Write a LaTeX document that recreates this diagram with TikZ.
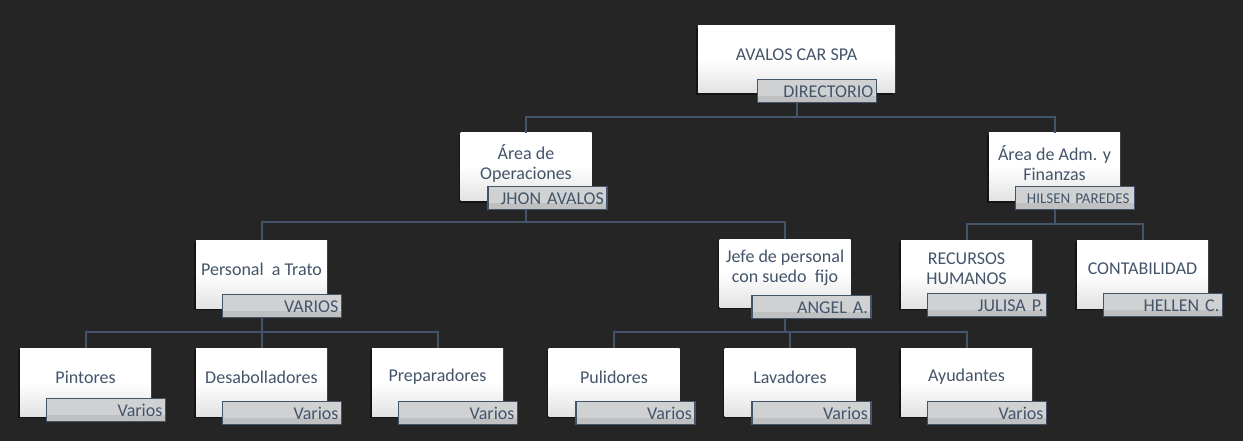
\documentclass[tikz,border=0pt]{standalone}
\usepackage{fontspec}
\setmainfont{Carlito}
\usetikzlibrary{shadows}
\definecolor{bg}{HTML}{252525}
\definecolor{ink}{HTML}{44546A}
\definecolor{tagtop}{HTML}{D0D1D3}
\definecolor{tagbot}{HTML}{BFC0C2}
\definecolor{boxbot}{HTML}{E2E2E2}
\pgfdeclareverticalshading{tagshade}{100bp}{color(0bp)=(tagbot); color(41bp)=(tagbot); color(41.5bp)=(tagtop); color(100bp)=(tagtop)}
\tikzset{
  unit/.style={minimum width=131pt, minimum height=68pt, inner sep=0pt,
    top color=white, bottom color=boxbot, middle color=white,
    drop shadow={shadow xshift=-2pt, shadow yshift=-2pt, opacity=0.45, fill=black}},
  unittxt/.style={text=ink, font=\fontsize{18}{20}\selectfont, align=center, inner sep=0pt},
  tag/.style={anchor=north west, draw=ink, line width=1.2pt, shading=tagshade,
    minimum width=119pt, minimum height=23pt, text width=113pt, align=right,
    inner xsep=3pt, inner ysep=0pt, text=ink, font=\fontsize{18}{20}\selectfont},
  link/.style={draw=ink, line width=2pt}
}
\begin{document}
\begin{tikzpicture}[x=1pt, y=-1pt]
  \fill[bg] (0,0) rectangle (1243,441);
  \useasboundingbox (0,0) rectangle (1243,441);
  % boxes
  \node[unit, minimum width=197pt, minimum height=67pt] (top) at (796.5,59.5) {};
  \node[unit] (oper) at (526,167) {};
  \node[unit] (adm) at (1054.5,167) {};
  \node[unit] (trato) at (261.5,274) {};
  \node[unit] (jefe) at (785,273) {};
  \node[unit] (rrhh) at (966.5,274) {};
  \node[unit] (conta) at (1142.5,274) {};
  \node[unit] (pint) at (85.5,382) {};
  \node[unit] (desa) at (261.5,382) {};
  \node[unit] (prep) at (437.5,382) {};
  \node[unit] (puli) at (614,382) {};
  \node[unit] (lava) at (790,382) {};
  \node[unit] (ayud) at (966.5,382) {};
  % texts
  \node[unittxt] (topT) at ([yshift=4.5pt]top.center) {AVALOS CAR SPA};
  \node[unittxt] (operT) at ([yshift=4pt]oper.center) {Área de\\Operaciones};
  \node[unittxt] (admT) at ([yshift=4pt]adm.center) {Área de Adm. y\\Finanzas};
  \node[unittxt] (tratoT) at ([yshift=5pt]trato.center) {Personal~ a Trato};
  \node[unittxt] (jefeT) at ([yshift=5pt]jefe.center) {Jefe de personal\\con suedo~ fijo};
  \node[unittxt] (rrhhT) at ([yshift=5pt]rrhh.center) {RECURSOS\\HUMANOS};
  \node[unittxt] (contaT) at ([yshift=5pt]conta.center) {CONTABILIDAD};
  \node[unittxt] (pintT) at ([yshift=5pt]pint.center) {Pintores};
  \node[unittxt] (desaT) at ([yshift=5pt]desa.center) {Desabolladores};
  \node[unittxt] (prepT) at ([yshift=5pt]prep.center) {Preparadores};
  \node[unittxt] (puliT) at ([yshift=5pt]puli.center) {Pulidores};
  \node[unittxt] (lavaT) at ([yshift=5pt]lava.center) {Lavadores};
  \node[unittxt] (ayudT) at ([yshift=5pt]ayud.center) {Ayudantes};
  % connectors
  \draw[link] (top.south) -- ++(0,24) -| (oper.north);
  \draw[link] (top.south) -- ++(0,24) -| (adm.north);
  \draw[link] (oper.south) -- ++(0,21) -| (trato.north);
  \draw[link] (oper.south) -- ++(0,21) -| (jefe.north);
  \draw[link] (adm.south) -- ++(0,23) -| (rrhh.north);
  \draw[link] (adm.south) -- ++(0,23) -| (conta.north);
  \draw[link] (trato.south) -- ++(0,24) -| (pint.north);
  \draw[link] (trato.south) -- ++(0,24) -| (desa.north);
  \draw[link] (trato.south) -- ++(0,24) -| (prep.north);
  \draw[link] (jefe.south) -- ++(0,25) -| (puli.north);
  \draw[link] (jefe.south) -- ++(0,25) -| (lava.north);
  \draw[link] (jefe.south) -- ++(0,25) -| (ayud.north);
  % tags
  \node[tag] (topV) at ([xshift=59pt,yshift=14pt]top.south west) {DIRECTORIO};
  \node[tag] (operV) at ([xshift=27pt,yshift=15pt]oper.south west) {JHON AVALOS};
  \node[tag, font=\fontsize{15}{18}\selectfont, text width=109pt, inner xsep=5pt] (admV) at ([xshift=26pt,yshift=15pt]adm.south west) {HILSEN PAREDES};
  \node[tag] (tratoV) at ([xshift=26pt,yshift=14pt]trato.south west) {VARIOS};
  \node[tag] (jefeV) at ([xshift=32pt,yshift=12pt]jefe.south west) {ANGEL A.};
  \node[tag] (rrhhV) at ([xshift=26pt,yshift=15pt]rrhh.south west) {JULISA P.};
  \node[tag] (contaV) at ([xshift=26pt,yshift=15pt]conta.south west) {HELLEN C.};
  \node[tag] (pintV) at ([xshift=26pt,yshift=18pt]pint.south west) {Varios};
  \node[tag] (desaV) at ([xshift=26pt,yshift=15pt]desa.south west) {Varios};
  \node[tag] (prepV) at ([xshift=26pt,yshift=15pt]prep.south west) {Varios};
  \node[tag] (puliV) at ([xshift=27pt,yshift=15pt]puli.south west) {Varios};
  \node[tag] (lavaV) at ([xshift=27pt,yshift=15pt]lava.south west) {Varios};
  \node[tag] (ayudV) at ([xshift=26pt,yshift=15pt]ayud.south west) {Varios};
\end{tikzpicture}
\end{document}
